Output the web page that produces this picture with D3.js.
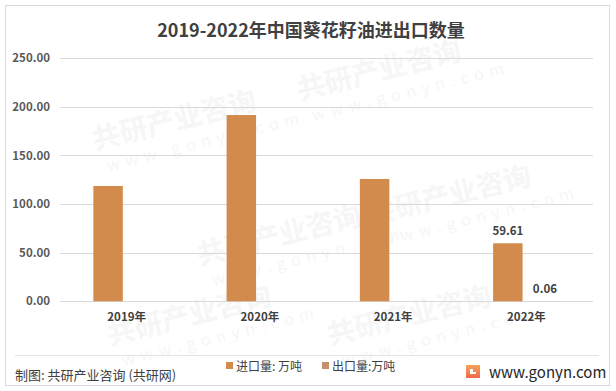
<!DOCTYPE html>
<html><head><meta charset="utf-8">
<script src="https://cdn.jsdelivr.net/npm/d3@7"></script>
<style>
html,body{margin:0;padding:0;background:#fff;}
svg{display:block;}
text{font-family:"Noto Sans CJK SC","Noto Sans",sans-serif;}
</style></head>
<body>
<script>
const title = "2019-2022年中国葵花籽油进出口数量";
const categories = ["2019年","2020年","2021年","2022年"];
const seriesNames = ["进口量: 万吨","出口量:万吨"];
const importValues = [118.5, 191.4, 125.7, 59.61];
const exportValues = [null, null, null, 0.06];
const labeledImport = [false, false, false, true];
const labeledExport = [false, false, false, true];
const yTicks = [0, 50, 100, 150, 200, 250];
const colors = ["#D38B4D", "#C4916C"];

const W = 616, H = 391;
const svg = d3.select("body").append("svg").attr("width", W).attr("height", H);

// outer border
svg.append("rect").attr("x",5.5).attr("y",5.5).attr("width",604).attr("height",380)
  .attr("fill","#fff").attr("stroke","#d9d9d9").attr("stroke-width",1);

// faint watermarks (kept inside the frame)
const wm = svg.append("g").attr("pointer-events","none");
const wmPos = [[95,150],[300,100],[200,265],[370,225],[110,345],[330,345]];
wmPos.forEach(([x,y])=>{
  const g = wm.append("g").attr("transform",`translate(${x},${y}) rotate(-14)`);
  g.append("text").attr("x",0).attr("y",0).attr("font-size",28).attr("font-weight",700)
    .attr("fill","#f6f6f6").text("共研产业咨询");
  g.append("text").attr("x",8).attr("y",24).attr("font-size",16).attr("letter-spacing","6px")
    .attr("fill","#f6f6f6").text("www.gonyn.com");
});

// title
svg.append("text").attr("x",311).attr("y",37).attr("text-anchor","middle")
  .attr("font-size",18).attr("font-weight",700).attr("fill","#404040").text(title);

const x0 = d3.scaleBand().domain(categories).range([60,593]).paddingInner(0).paddingOuter(0);
const x1 = d3.scaleBand().domain([0,1]).range([0,x0.bandwidth()]).paddingInner(0.205).paddingOuter(0.9);
const y = d3.scaleLinear().domain([0,250]).range([301.3,58]);

// gridlines
svg.append("g").selectAll("line").data(yTicks).join("line")
  .attr("x1",60).attr("x2",593).attr("y1",d=>Math.round(y(d))+0.5).attr("y2",d=>Math.round(y(d))+0.5)
  .attr("stroke","#d9d9d9").attr("stroke-width",1);

// y axis labels
const yAxis = d3.axisLeft(y).tickValues(yTicks).tickFormat(d3.format(".2f")).tickSize(0).tickPadding(0);
const ya = svg.append("g").attr("transform","translate(50,0)").call(yAxis);
ya.select(".domain").remove();
ya.selectAll("text").attr("font-size",11.5).attr("font-weight",700).attr("fill","#595959")
  .attr("font-family",'"Noto Sans CJK SC","Noto Sans",sans-serif');

// x axis labels
const xAxis = d3.axisBottom(x0).tickSize(0).tickPadding(0);
const xa = svg.append("g").attr("transform","translate(0,313)").call(xAxis);
xa.select(".domain").remove();
xa.selectAll("text").attr("font-size",11.5).attr("font-weight",700).attr("fill","#404040")
  .attr("font-family",'"Noto Sans CJK SC","Noto Sans",sans-serif');

// bars
const series = [importValues, exportValues];
const labeled = [labeledImport, labeledExport];
series.forEach((vals, si) => {
  const g = svg.append("g");
  categories.forEach((c, i) => {
    const v = vals[i];
    if (v == null) return;
    const bx = x0(c) + x1(si);
    g.append("rect").attr("x",bx).attr("y",y(v)).attr("width",x1.bandwidth())
      .attr("height",Math.max(0,y(0)-y(v))).attr("fill",colors[si]);
    if (labeled[si][i]) {
      g.append("text").attr("x",bx + x1.bandwidth()/2).attr("y",y(v)-8)
        .attr("text-anchor","middle").attr("font-size",11.5).attr("font-weight",700)
        .attr("fill","#404040").text(d3.format(".2f")(v));
    }
  });
});

// footer separator
svg.append("line").attr("x1",15).attr("x2",599).attr("y1",355.5).attr("y2",355.5)
  .attr("stroke","#e3e3e3").attr("stroke-width",1);

// footer source
svg.append("text").attr("x",15).attr("y",380).attr("font-size",13).attr("fill","#404040")
  .text("制图: 共研产业咨询 (共研网)");

// legend
const legX = [226, 322];
seriesNames.forEach((n,i)=>{
  svg.append("rect").attr("x",legX[i]).attr("y",362).attr("width",7).attr("height",7).attr("fill",colors[i]);
  svg.append("text").attr("x",legX[i]+10).attr("y",371).attr("font-size",12).attr("fill","#404040").text(n);
});

// logo
const defs = svg.append("defs");
const lg = defs.append("linearGradient").attr("id","lg").attr("x1",0).attr("y1",0).attr("x2",0).attr("y2",1);
lg.append("stop").attr("offset","0").attr("stop-color","#F6A25A");
lg.append("stop").attr("offset","1").attr("stop-color","#EE6A4A");
svg.append("path").attr("fill","url(#lg)")
  .attr("d","M466,365 h14 v4 h-10 v5 h6 v-2 h-3 v-3 h7 v9 h-14 z");
svg.append("text").attr("x",489).attr("y",378).attr("font-size",15).attr("fill","#262626")
  .attr("font-family",'"Open Sans","Noto Sans",sans-serif').text("www.gonyn.com");
</script>
</body></html>
